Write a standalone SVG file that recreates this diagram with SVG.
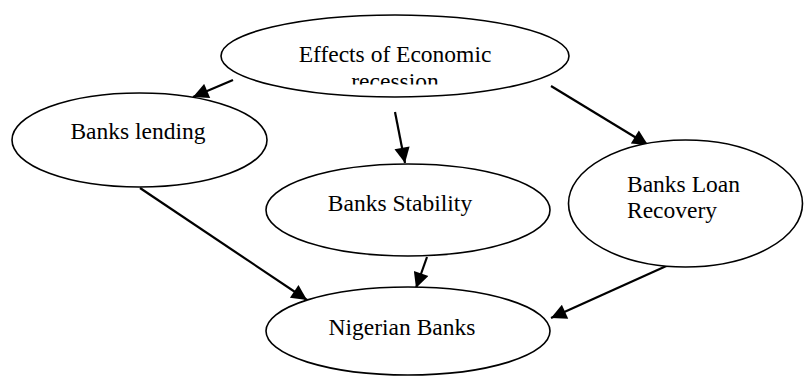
<svg xmlns="http://www.w3.org/2000/svg" width="804" height="376" viewBox="0 0 804 376">
  <style>
    .node { fill: #ffffff; stroke: #000000; stroke-width: 1.6; }
    .label { font-family: "Liberation Serif", "Times New Roman", serif; font-size: 23.5px; fill: #000000; }
    .edge { stroke: #000000; stroke-width: 2.2; fill: none; marker-end: url(#arrow); }
  </style>
  <defs>
    <marker id="arrow" viewBox="0 0 10 10" refX="10" refY="5" markerWidth="8" markerHeight="7" markerUnits="strokeWidth" orient="auto">
      <path d="M0,0 L10,5 L0,10 Z" fill="#000000"/>
    </marker>
    <clipPath id="topTextClip">
      <rect x="220" y="20" width="350" height="64.5"/>
    </clipPath>
  </defs>

  <g id="connectors">
    <line class="edge" x1="233" y1="80" x2="193" y2="97"/>
    <line class="edge" x1="395" y1="112" x2="405" y2="163"/>
    <line class="edge" x1="551" y1="86" x2="648" y2="145"/>
    <line class="edge" x1="140" y1="188" x2="307" y2="300"/>
    <line class="edge" x1="427" y1="257" x2="416" y2="288"/>
    <line class="edge" x1="673" y1="263" x2="551" y2="318"/>
  </g>

  <g id="effects-of-economic-recession">
    <ellipse class="node" cx="395" cy="56" rx="174" ry="41"/>
    <g clip-path="url(#topTextClip)">
      <text class="label" x="395" y="62" text-anchor="middle">Effects of Economic</text>
      <text class="label" x="395" y="89" text-anchor="middle">recession</text>
    </g>
  </g>

  <g id="banks-lending">
    <ellipse class="node" cx="139.5" cy="140" rx="127.5" ry="47"/>
    <text class="label" x="138" y="139" text-anchor="middle">Banks lending</text>
  </g>

  <g id="banks-stability">
    <ellipse class="node" cx="408" cy="210" rx="142" ry="46"/>
    <text class="label" x="400" y="211" text-anchor="middle">Banks Stability</text>
  </g>

  <g id="banks-loan-recovery">
    <ellipse class="node" cx="685.5" cy="203.5" rx="117" ry="63.5"/>
    <text class="label" x="627" y="192">Banks Loan</text>
    <text class="label" x="627" y="218">Recovery</text>
  </g>

  <g id="nigerian-banks">
    <ellipse class="node" cx="408" cy="331" rx="142" ry="44"/>
    <text class="label" x="402" y="335" text-anchor="middle">Nigerian Banks</text>
  </g>
</svg>
